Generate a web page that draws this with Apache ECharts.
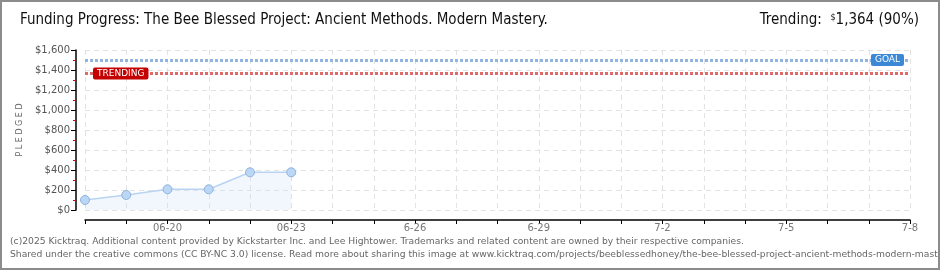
<!DOCTYPE html>
<html><head><meta charset="utf-8">
<script src="https://cdn.jsdelivr.net/npm/echarts@6/dist/echarts.min.js"></script>
<style>
html,body{margin:0;padding:0;background:#fff;}
#frame{position:absolute;left:0;top:0;width:940px;height:270px;box-sizing:border-box;border:2px solid #8c8c8c;}
#c{position:absolute;left:0;top:0;width:940px;height:270px;}
</style></head><body>
<div id="c"></div><div id="frame"></div>
<script>
const categories = ['06-18','06-19','06-20','06-21','06-22','06-23','06-24','06-25','06-26','06-27','06-28','06-29','06-30','07-01','07-02','07-03','07-04','07-05','07-06','07-07','07-08'];
const tickLabels = ['','','06-20','','','06-23','','','6-26','','','6-29','','','7-2','','','7-5','','','7-8'];
const pledged = [100, 150, 207, 207, 377, 377];
const goal = 1500;
const trending = 1364;
const titleText = 'Funding Progress: The Bee Blessed Project: Ancient Methods. Modern Mastery.';
const footer1 = '(c)2025 Kicktraq. Additional content provided by Kickstarter Inc. and Lee Hightower. Trademarks and related content are owned by their respective companies.';
const footer2 = 'Shared under the creative commons (CC BY-NC 3.0) license. Read more about sharing this image at www.kicktraq.com/projects/beeblessedhoney/the-bee-blessed-project-ancient-methods-modern-mastery/';

const titleFont = '"DejaVu Sans Condensed", "Roboto", sans-serif';
const chart = echarts.init(document.getElementById('c'), null, {renderer:'canvas'});
const seriesData = categories.map((c,i)=> i < pledged.length ? pledged[i] : null);
chart.setOption({
  animation:false,
  grid:{left:85,right:30,top:50,bottom:60},
  graphic:[
    {type:'text',left:20,top:13,style:{text:titleText,font:'15px '+titleFont,fill:'#111'}},
    {type:'text',right:21,top:13,style:{text:'Trending:  {s|$}1,364 (90%)',font:'15px '+titleFont,fill:'#111',rich:{s:{fontSize:9,verticalAlign:'top',fontFamily:titleFont,padding:[0,0,6,0]}}}},
    {type:'text',left:10,top:237,style:{text:footer1,font:'9.2px "DejaVu Sans", sans-serif',fill:'#666'}},
    {type:'text',left:10,top:250,style:{text:footer2,font:'9.2px "DejaVu Sans", sans-serif',fill:'#666'}}
  ],
  xAxis:{
    type:'category',data:categories,boundaryGap:false,offset:10,
    axisLine:{onZero:false,lineStyle:{color:'#000',width:1.5}},
    axisTick:{show:true,interval:0,length:4,lineStyle:{color:'#000'}},
    axisLabel:{interval:0,formatter:(v,i)=>tickLabels[i],color:'#777',fontFamily:'"DejaVu Sans", sans-serif',fontSize:10,margin:3},
    splitLine:{show:true,interval:0,lineStyle:{color:'#e2e2e2',type:[5,4]}}
  },
  yAxis:{
    type:'value',min:0,max:1600,interval:200,offset:9,
    name:'P L E D G E D',nameLocation:'middle',nameGap:48,nameRotate:90,
    nameTextStyle:{color:'#666',fontFamily:'"DejaVu Sans", sans-serif',fontSize:8},
    axisLine:{show:true,lineStyle:{color:'#000',width:1.5}},
    axisTick:{show:true,length:5,lineStyle:{color:'#000'}},
    minorTick:{show:true,splitNumber:2,length:3,lineStyle:{color:'#e00000'}},
    axisLabel:{formatter:v=>'$'+v.toLocaleString('en-US'),color:'#555',fontFamily:'"DejaVu Sans", sans-serif',fontSize:10,margin:6},
    splitLine:{show:true,lineStyle:{color:'#e2e2e2',type:[5,4]}}
  },
  series:[{
    type:'line',data:seriesData,connectNulls:false,
    symbol:'circle',symbolSize:9,
    itemStyle:{color:'#bcd7f5',borderColor:'#8fb2dc',borderWidth:1},
    lineStyle:{color:'#b8d4f2',width:1.5},
    areaStyle:{color:'rgba(205,225,248,0.4)'},
    markLine:{
      silent:true,symbol:'none',
      data:[
        {yAxis:goal,lineStyle:{color:'#8fb5e0',width:3,type:[3,2]},
         label:{show:true,position:'insideEnd',formatter:'GOAL',distance:[6,-7],backgroundColor:'#3a88d6',color:'#fff',fontFamily:'"DejaVu Sans", sans-serif',fontSize:9,padding:[2,4,1,4],borderRadius:2}},
        {yAxis:trending,lineStyle:{color:'#e06a6a',width:3,type:[3,2]},
         label:{show:true,position:'insideStart',formatter:'TRENDING',distance:[8,-7],backgroundColor:'#c40000',color:'#fff',fontFamily:'"DejaVu Sans", sans-serif',fontSize:9,padding:[2,4,1,4],borderRadius:2}}
      ]
    }
  }]
});
</script></body></html>
